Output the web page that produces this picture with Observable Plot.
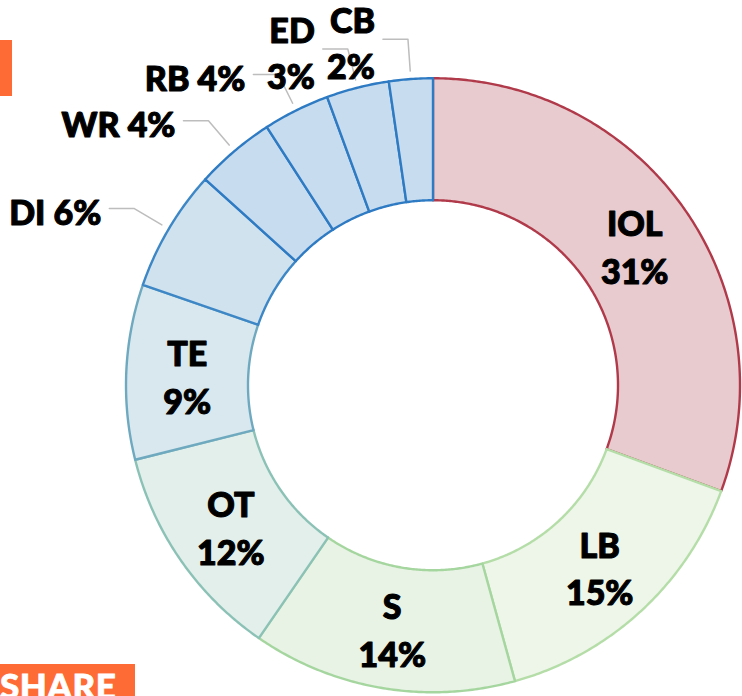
<!DOCTYPE html>
<html>
<head>
<meta charset="utf-8">
<script src="https://cdn.jsdelivr.net/npm/d3@7"></script>
<script src="https://cdn.jsdelivr.net/npm/@observablehq/plot@0.6"></script>
<style>
  html, body { margin: 0; padding: 0; background: #fff; }
  #wrap { position: relative; width: 742px; height: 696px; overflow: hidden; }
  #tab { position: absolute; left: 0; top: 40px; width: 12px; height: 56px; background: #FF6B35; }
  #share { position: absolute; left: 0; top: 664px; width: 135px; height: 40px; background: #FF6B35;
           color: #fff; font-family: 'Lato', sans-serif; font-weight: 900;
           font-size: 35px; line-height: 42px; padding-left: 0; letter-spacing: 0.5px;
           -webkit-text-stroke: 0.8px #fff; }
</style>
</head>
<body>
<div id="wrap">
  <div id="chart"></div>
  <div id="tab"></div>
  <div id="share">SHARE</div>
</div>
<script>
// ---- data ----
const categories = ["IOL", "LB", "S", "OT", "TE", "DI", "WR", "RB", "ED", "CB"];
const shares = [30.6, 15.1, 13.9, 11.5, 9.2, 6.4, 4.2, 3.5, 3.3, 2.3];
const outsideLabels = ["DI", "WR", "RB", "ED", "CB"];
const stackedOutside = ["ED", "CB"];
// ---- styles ----
const fillColors = ["#E8CBCE", "#EDF6E8", "#E8F3E6", "#E2EFEB", "#D8E8EE", "#D0E2EE", "#C7DCEF", "#C7DCEF", "#C7DCEF", "#C7DCEF"];
const strokeColors = ["#B0394A", "#B4DDA8", "#A6D69F", "#8CC2B6", "#6EA9C0", "#3D87C6", "#2E7BC4", "#2E7BC4", "#2E7BC4", "#2E7BC4"];

const W = 742, H = 696;
const cx = 432.5, cy = 384.75;
const R = 307, r = 185, rMid = 246;
const rLeadIn = 315, rElbow = 347, tail = 25, gap = 8;

const pie = d3.pie().sort(null).value(d => d.share);
const rows = categories.map((c, i) => ({key: c, share: shares[i], fill: fillColors[i], stroke: strokeColors[i]}));
const arcs = pie(rows);

const pt = (rad, a) => ({x: rad * Math.sin(a), y: -rad * Math.cos(a)});

// slice outlines
const slicePts = [];
arcs.forEach(a => {
  const n = Math.max(8, Math.ceil((a.endAngle - a.startAngle) * 120));
  for (let k = 0; k <= n; k++) {
    const t = a.startAngle + (a.endAngle - a.startAngle) * k / n;
    slicePts.push({key: a.data.key, fill: a.data.fill, stroke: a.data.stroke, ...pt(R, t)});
  }
  for (let k = n; k >= 0; k--) {
    const t = a.startAngle + (a.endAngle - a.startAngle) * k / n;
    slicePts.push({key: a.data.key, fill: a.data.fill, stroke: a.data.stroke, ...pt(r, t)});
  }
});

const pctText = d => Math.round(d.data.share) + "%";
const insideArcs = arcs.filter(a => !outsideLabels.includes(a.data.key));
const insideLabels = insideArcs.map(a => {
  const m = (a.startAngle + a.endAngle) / 2;
  return {text: a.data.key + "\n" + pctText(a), ...pt(rMid, m)};
});

const outArcs = arcs.filter(a => outsideLabels.includes(a.data.key));
const leaderPts = [];
const outLabels = [];
outArcs.forEach(a => {
  const m = (a.startAngle + a.endAngle) / 2;
  const p0 = pt(rLeadIn, m), p1 = pt(rElbow, m);
  const p2 = {x: p1.x - tail, y: p1.y};
  [p0, p1, p2].forEach(p => leaderPts.push({key: a.data.key, ...p}));
  const sep = stackedOutside.includes(a.data.key) ? "\n" : " ";
  outLabels.push({text: a.data.key + sep + pctText(a), x: p2.x - gap, y: p2.y + 2});
});

const font = "'Lato', sans-serif";

const chart = Plot.plot({
  width: W, height: H,
  margin: 0,
  x: {domain: [-cx, W - cx], range: [0, W], axis: null},
  y: {domain: [-cy, H - cy], range: [0, H], axis: null},
  color: {type: "identity"},
  style: {background: "transparent"},
  marks: [
    Plot.line(slicePts, {x: "x", y: "y", z: "key", fill: "fill", stroke: "stroke", strokeWidth: 2.4, curve: "linear-closed"}),
    Plot.line(leaderPts, {x: "x", y: "y", z: "key", stroke: "#BDBDBD", strokeWidth: 1.5}),
    Plot.text(insideLabels, {x: "x", y: "y", text: "text", fontSize: 34, lineHeight: 1.41, fontWeight: 900,
      fontFamily: font, fill: "#000", stroke: "#000", strokeWidth: 1.1, textAnchor: "middle"}),
    Plot.text(outLabels, {x: "x", y: "y", text: "text", fontSize: 34, lineHeight: 1.36, fontWeight: 900,
      fontFamily: font, fill: "#000", stroke: "#000", strokeWidth: 1.1, textAnchor: "end"})
  ]
});
document.getElementById("chart").appendChild(chart);
</script>
</body>
</html>
